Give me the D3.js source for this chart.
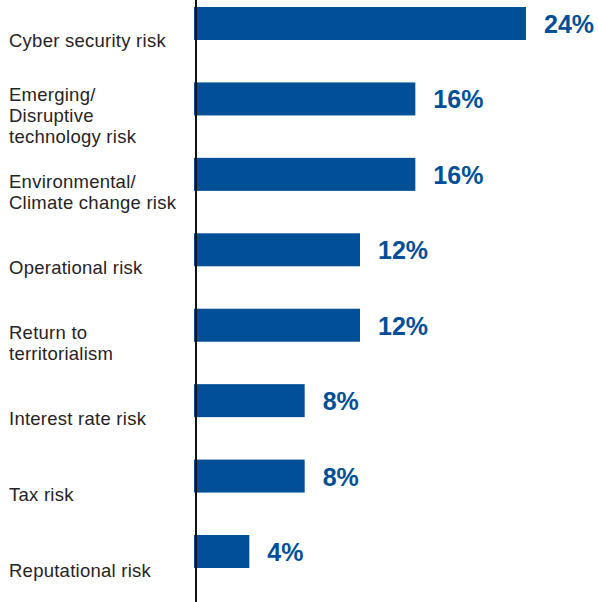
<!DOCTYPE html>
<html>
<head>
<meta charset="utf-8">
<script src="https://cdn.jsdelivr.net/npm/d3@7"></script>
<style>
html,body{margin:0;padding:0;background:#fff;}
svg{display:block;}
</style>
</head>
<body>
<svg id="chart" width="598" height="602"></svg>
<script>
const categories = [
  "Cyber security risk",
  "Emerging/ Disruptive technology risk",
  "Environmental/ Climate change risk",
  "Operational risk",
  "Return to territorialism",
  "Interest rate risk",
  "Tax risk",
  "Reputational risk"
];
const labelLines = [
  ["Cyber security risk"],
  ["Emerging/", "Disruptive", "technology risk"],
  ["Environmental/", "Climate change risk"],
  ["Operational risk"],
  ["Return to", "territorialism"],
  ["Interest rate risk"],
  ["Tax risk"],
  ["Reputational risk"]
];
const values = [24, 16, 16, 12, 12, 8, 8, 4];

const svg = d3.select("#chart");
const blue = "#004f97";

const x = d3.scaleLinear().domain([0, 24]).range([194, 526]);
const y = d3.scaleBand().domain(categories).range([7, 568]).paddingInner(0.5625).paddingOuter(0);
// label baseline positions (labels sit slightly lower than bar centres)
const yLabel = d3.scalePoint().domain(categories).range([46.5, 577]);

// bars
svg.selectAll("rect.bar").data(values).enter().append("rect")
  .attr("class", "bar")
  .attr("x", x(0))
  .attr("y", (d, i) => y(categories[i]))
  .attr("width", d => x(d) - x(0))
  .attr("height", y.bandwidth())
  .attr("fill", blue);

// axis line
svg.append("line")
  .attr("x1", 196).attr("x2", 196)
  .attr("y1", 0).attr("y2", 602)
  .attr("stroke", "#111").attr("stroke-width", 2);

// value labels
svg.selectAll("text.val").data(values).enter().append("text")
  .attr("class", "val")
  .attr("x", d => x(d) + 18)
  .attr("y", (d, i) => y(categories[i]) + y.bandwidth() / 2 + 9.5)
  .attr("font-family", "Liberation Sans, Arial, sans-serif")
  .attr("font-weight", "bold")
  .attr("font-size", 25)
  .attr("fill", blue)
  .text(d => d + "%");

// category labels
const lh = 21;
labelLines.forEach((lines, i) => {
  const first = yLabel(categories[i]) - (lines.length - 1) * lh / 2;
  const t = svg.append("text")
    .attr("font-family", "Liberation Sans, Arial, sans-serif")
    .attr("font-size", 18.5)
    .attr("letter-spacing", 0.25)
    .attr("fill", "#262324");
  lines.forEach((ln, j) => {
    t.append("tspan").attr("x", 9).attr("y", first + j * lh).text(ln);
  });
});
</script>
</body>
</html>
